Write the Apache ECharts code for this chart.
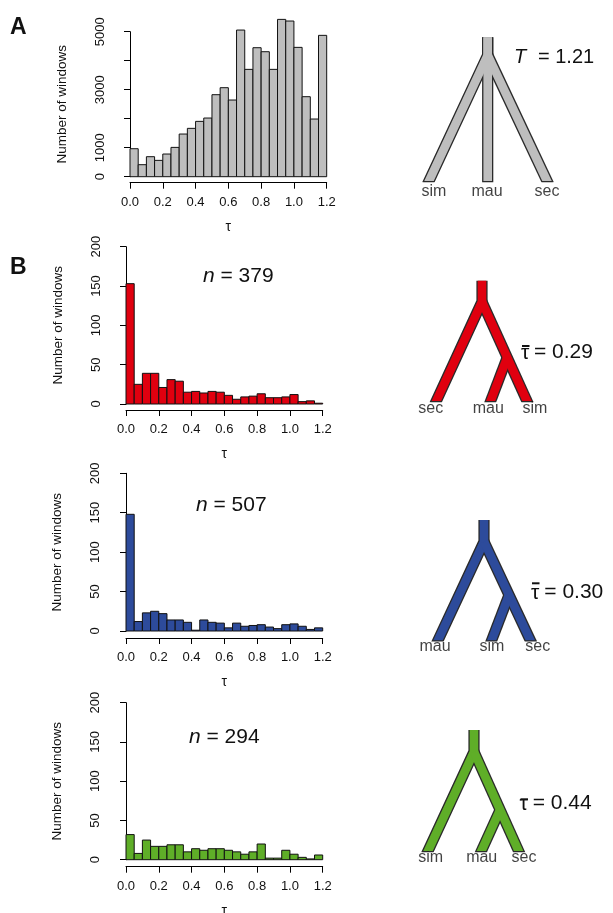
<!DOCTYPE html>
<html><head><meta charset="utf-8">
<script src="https://cdn.jsdelivr.net/npm/echarts@6/dist/echarts.min.js"></script>
<style>html,body{margin:0;padding:0;background:#fff}#c{width:613px;height:913px}</style>
</head><body><div id="c"></div>
<script>
// ---------- data ----------
const binEdges = [0.00,0.05,0.10,0.15,0.20,0.25,0.30,0.35,0.40,0.45,0.50,0.55,0.60,0.65,0.70,0.75,0.80,0.85,0.90,0.95,1.00,1.05,1.10,1.15,1.20];
const countsAll   = [965,414,690,563,782,1011,1471,1667,1908,2023,2828,3069,2644,5057,3701,4448,4310,3701,5425,5368,4460,2759,1989,4874];
const countsRed   = [153,25,39,39,21,31,29,15,16,14,16,15,11,6,9,10,13,8,8,9,12,3,4,1];
const countsBlue  = [148,12,23,25,22,14,14,11,1,14,11,10,4,10,6,7,8,5,3,8,9,6,2,4];
const countsGreen = [32,8,25,17,17,19,19,10,14,12,14,14,12,10,7,10,20,2,2,12,7,3,1,6];
const xTicks = [0.0,0.2,0.4,0.6,0.8,1.0,1.2];
const yTicksA = [0,1000,2000,3000,4000,5000];
const yLabelsA = ['0','1000','','3000','','5000'];
const yTicksB = [0,50,100,150,200];
const nLabels = ['379','507','294'];
const tauValues = ['1.21','0.29','0.30','0.44'];

// tree branches (abstract tree units: x across, y = height above leaves)
const treeA = [[[6.77,13.94],[6.77,12.17],[1.1,0]], [[6.77,12.17],[12.5,0]], [[6.77,13.94],[6.77,0]]];
const treeRed = [[[6.2,11.6],[6.2,9.5],[1.83,0]], [[6.2,9.5],[10.5,0]], [[8.73,3.94],[7.23,0]]];
const treeBlue = [[[6.4,11.6],[6.4,9.43],[2.0,0]], [[6.4,9.43],[10.83,0]], [[8.9,4.1],[7.33,0]]];
const treeGreen = [[[5.4,11.67],[5.4,9.5],[1.0,0]], [[5.4,9.5],[9.67,0]], [[8.0,3.67],[6.33,0]]];
const leafNamesA = ['sim','mau','sec'];   const leafLabelXA = [1.4,6.7,12.7];
const leafNamesRed = ['sec','mau','sim']; const leafLabelXRed = [1.07,6.83,11.5];
const leafNamesBlue = ['mau','sim','sec']; const leafLabelXBlue = [1.5,7.2,11.77];
const leafNamesGreen = ['sim','mau','sec']; const leafLabelXGreen = [1.07,6.17,10.4];

// ---------- styling ----------
const FONT = "'Liberation Sans', Arial, Helvetica, sans-serif";
const TXT = '#111';
const colGray = '#BEBEBE', colRed = '#E0000F', colBlue = '#2D4B9B', colGreen = '#5FAE28';

const chart = echarts.init(document.getElementById('c'), null, {renderer:'canvas'});

const hists = [
  {counts: countsAll, color: colGray, grid:{left:130, top:31.7, width:196.7, height:145}, yMax:5000, yInt:1000, yLabels:(v)=>yLabelsA[yTicksA.indexOf(v)] ?? '', xOff:6, yOff:7},
  {counts: countsRed, color: colRed, grid:{left:126, top:246.7, width:196.7, height:157.3}, yMax:200, yInt:50, yLabels:(v)=>String(v), xOff:6, yOff:7},
  {counts: countsBlue, color: colBlue, grid:{left:126, top:473.3, width:196.7, height:157.7}, yMax:200, yInt:50, yLabels:(v)=>String(v), xOff:7, yOff:7.7},
  {counts: countsGreen, color: colGreen, grid:{left:126, top:702.7, width:196.7, height:157}, yMax:200, yInt:50, yLabels:(v)=>String(v), xOff:7, yOff:7.7}
];
const trees = [
  {br: treeA, names: leafNamesA, lx: leafLabelXA, color: colGray, leafY:176.7, labDist:7},
  {br: treeRed, names: leafNamesRed, lx: leafLabelXRed, color: colRed, leafY:396.7, labDist:4},
  {br: treeBlue, names: leafNamesBlue, lx: leafLabelXBlue, color: colBlue, leafY:636, labDist:3},
  {br: treeGreen, names: leafNamesGreen, lx: leafLabelXGreen, color: colGreen, leafY:846.7, labDist:3}
];

const grid = [], xAxis = [], yAxis = [], series = [];
const axisLineStyle = {color:'#000', width:1};

hists.forEach((h, i) => {
  grid.push(Object.assign({containLabel:false, outerBoundsMode:'none'}, h.grid));
  xAxis.push({type:'value', gridIndex:i, min:0, max:1.2, interval:0.2, offset:h.xOff,
    axisLine:{show:true, onZero:false, lineStyle:axisLineStyle},
    axisTick:{show:true, length:6, lineStyle:axisLineStyle},
    axisLabel:{fontSize:13, fontFamily:FONT, color:TXT, margin:13, formatter:(v)=>v.toFixed(1)},
    splitLine:{show:false},
    name:'τ', nameLocation:'middle', nameGap:37,
    nameTextStyle:{fontSize:14, fontFamily:FONT, color:TXT}});
  yAxis.push({type:'value', gridIndex:i, min:0, max:h.yMax, interval:h.yInt, offset:h.yOff,
    axisLine:{show:true, lineStyle:axisLineStyle},
    axisTick:{show:true, length:6, lineStyle:axisLineStyle},
    axisLabel:{fontSize:13, fontFamily:FONT, color:TXT, margin:16, rotate:90, formatter:h.yLabels},
    splitLine:{show:false},
    name:'Number of windows', nameLocation:'middle', nameGap:54,
    nameTextStyle:{fontSize:13.5, fontFamily:FONT, color:TXT}});
  const data = h.counts.map((c, k) => [binEdges[k], binEdges[k+1], c]);
  series.push({type:'custom', xAxisIndex:i, yAxisIndex:i, clip:false, data,
    encode:{x:[0,1], y:2},
    renderItem:(params, api) => {
      const p0 = api.coord([api.value(0), api.value(2)]);
      const p1 = api.coord([api.value(1), 0]);
      return {type:'rect', shape:{x:p0[0], y:p0[1], width:p1[0]-p0[0], height:p1[1]-p0[1]},
        style:{fill:h.color, stroke:'#111', lineWidth:1}};
    }});
});

function extendToBase(line) {
  const n = line.length, a = line[n-2], b = line[n-1];
  const dy = a[1]-b[1], dx = a[0]-b[0];
  const t = 0.8 / dy;
  const out = line.slice(0, n-1);
  out.push([b[0] - dx*t, b[1] - 0.8]);
  return out;
}

trees.forEach((t, j) => {
  const gi = 4 + j;
  grid.push({left:420, top:t.leafY-150, width:150, height:150, containLabel:false, outerBoundsMode:'none'});
  xAxis.push({type:'value', gridIndex:gi, min:0, max:15, show:false});
  yAxis.push({type:'value', gridIndex:gi, min:0, max:15, show:false});
  const lines = t.br.map(l => ({coords: extendToBase(l)}));
  series.push({type:'lines', coordinateSystem:'cartesian2d', xAxisIndex:gi, yAxisIndex:gi, polyline:true, clip:true,
    data: lines, silent:true, lineStyle:{color:'#2a2a2a', width:11.2, opacity:1, curveness:0, cap:'butt', join:'miter'}, z:2});
  series.push({type:'lines', coordinateSystem:'cartesian2d', xAxisIndex:gi, yAxisIndex:gi, polyline:true, clip:true,
    data: lines, silent:true, lineStyle:{color:t.color, width:8.6, opacity:1, curveness:0, cap:'butt', join:'miter'}, z:3});
  series.push({type:'scatter', xAxisIndex:gi, yAxisIndex:gi, symbolSize:0, clip:false, silent:true,
    data: t.names.map((nm, k) => [t.lx[k], 0, nm]),
    label:{show:true, position:'bottom', distance:t.labDist, formatter:(p)=>p.data[2],
      fontSize:16, fontFamily:FONT, color:TXT}});
});

// annotations
const graphic = [
  {type:'text', left:10, top:16, style:{text:'A', font:"bold 23px "+FONT, fill:TXT}},
  {type:'text', left:10, top:256, style:{text:'B', font:"bold 23px "+FONT, fill:TXT}}
];
const nPos = [[203,276],[196,505],[189,737.3]];
nLabels.forEach((n, k) => {
  graphic.push({type:'text', x:nPos[k][0], y:nPos[k][1],
    style:{text:'{i|n} = '+n, verticalAlign:'middle', align:'left', font:"21px "+FONT, fill:TXT,
      rich:{i:{fontStyle:'italic', fontSize:21, fontFamily:FONT, fill:TXT}}}});
});
// A tau
graphic.push({type:'text', x:514, y:57, style:{text:'T', verticalAlign:'middle', font:"italic 20px "+FONT, fill:TXT}});
graphic.push({type:'text', x:538, y:57, style:{text:'= '+tauValues[0], verticalAlign:'middle', font:"20px "+FONT, fill:TXT}});
const tauPos = [[521,352,534,346],[531,592.7,544.3,583.3],[519.5,803.3,532.7,799.3]];
tauPos.forEach((p, k) => {
  graphic.push({type:'text', x:p[0], y:p[1]+1, style:{text:'τ', verticalAlign:'middle', font:"21px "+FONT, fill:TXT}});
  graphic.push({type:'line', shape:{x1:p[0]+1, y1:p[3], x2:p[0]+8.5, y2:p[3]}, style:{stroke:TXT, lineWidth:2}});
  graphic.push({type:'text', x:p[2], y:p[1], style:{text:'= '+tauValues[k+1], verticalAlign:'middle', font:"21px "+FONT, fill:TXT}});
});

chart.setOption({animation:false, backgroundColor:'#fff', grid, xAxis, yAxis, series, graphic});
</script></body></html>
